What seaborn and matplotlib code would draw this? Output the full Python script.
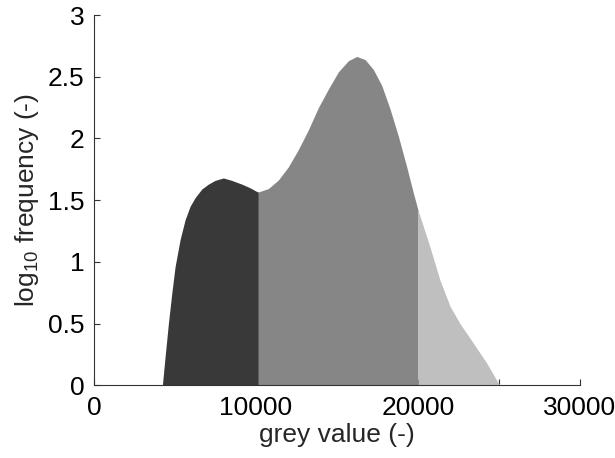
import numpy as np
import matplotlib
matplotlib.use('Agg')
import matplotlib.pyplot as plt
from matplotlib.ticker import MultipleLocator
import seaborn as sns

# histogram outline
grey_value = np.array([4216, 4383, 4587, 4797, 5000, 5309, 5617, 5926, 6235, 6648,
                       7056, 7469, 7982, 8500, 9118, 9630, 10044, 10142, 10760,
                       11377, 11994, 12611, 13229, 13846, 14463, 15081, 15698,
                       16216, 16729, 17241, 17760, 18272, 18785, 19303, 19710,
                       20000, 20740, 21360, 21980, 22590, 23420, 24240, 24860, 25060])
log_freq = np.array([0.0, 0.23, 0.50, 0.745, 0.96, 1.18, 1.34, 1.45, 1.52, 1.59,
                     1.63, 1.66, 1.68, 1.66, 1.63, 1.60, 1.57, 1.566, 1.594,
                     1.663, 1.77, 1.91, 2.07, 2.25, 2.40, 2.54, 2.63,
                     2.665, 2.64, 2.56, 2.43, 2.24, 2.02, 1.77, 1.56,
                     1.42, 1.12, 0.85, 0.64, 0.50, 0.34, 0.18, 0.04, 0.0])

# class thresholds and shades
thresholds = [10142, 20000]
shades = ['#393939', '#868686', '#bfbfbf']

y_ticks = [0, 0.5, 1, 1.5, 2, 2.5, 3]
y_labels = ['0', '0.5', '1', '1.5', '2', '2.5', '3']

sns.set_theme(style='ticks')
plt.rcParams['font.family'] = ['Liberation Sans', 'DejaVu Sans']
plt.rcParams['mathtext.default'] = 'regular'

fig = plt.figure(figsize=(6.15, 4.58), dpi=100)
ax = fig.add_axes([0.153, 0.159, 0.79, 0.808])

bounds = [grey_value.min()] + thresholds + [grey_value.max()]
for i, col in enumerate(shades):
    m = (grey_value >= bounds[i]) & (grey_value <= bounds[i + 1])
    ax.fill_between(grey_value[m], 0, log_freq[m], color=col, linewidth=0)

ax.set_xlim(0, 30000)
ax.set_ylim(0, 3)
ax.xaxis.set_major_locator(MultipleLocator(10000))
ax.xaxis.set_minor_locator(MultipleLocator(5000))
ax.set_yticks(y_ticks)
ax.set_yticklabels(y_labels)

ax.tick_params(which='both', direction='in', length=4, width=0.8, color='#333333',
               labelsize=19, labelcolor='black')
ax.tick_params(axis='x', which='both', pad=8)
ax.tick_params(axis='y', pad=7)
sns.despine(ax=ax)
for s in ['left', 'bottom']:
    ax.spines[s].set_color('#333333')
    ax.spines[s].set_linewidth(0.8)

ax.set_xlabel('grey value (-)', fontsize=19, labelpad=2)
ax.set_ylabel('log$_{10}$ frequency (-)', fontsize=19, labelpad=5)

fig.savefig('out.png', dpi=100)
